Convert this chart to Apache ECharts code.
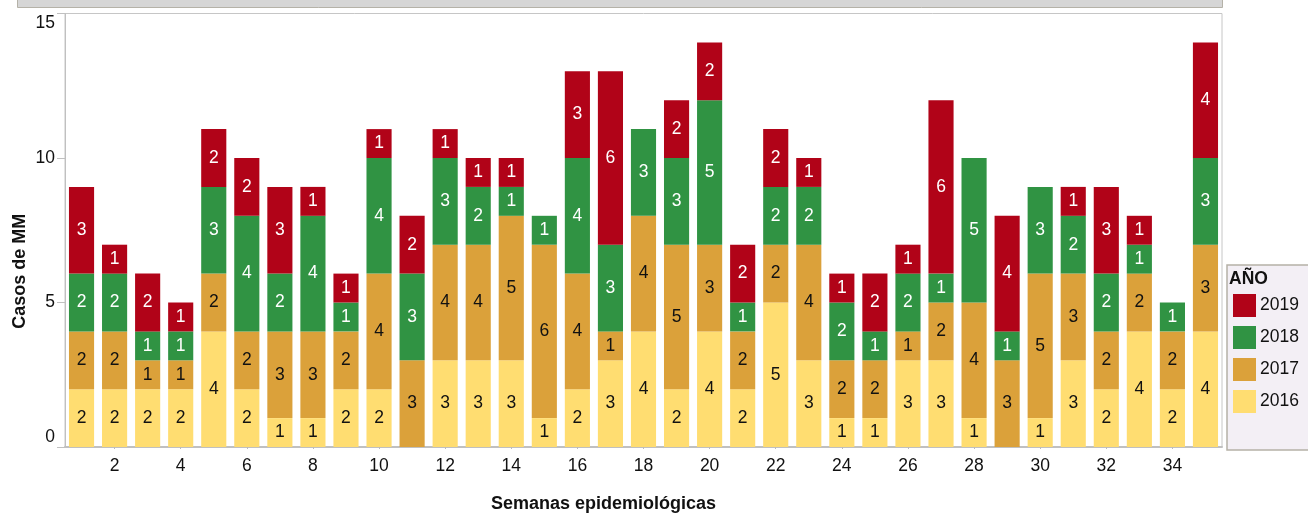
<!DOCTYPE html>
<html>
<head>
<meta charset="utf-8">
<script src="https://cdn.jsdelivr.net/npm/echarts@6/dist/echarts.min.js"></script>
<style>html,body{margin:0;padding:0;background:#fff;}#c{width:1308px;height:513px;}</style>
</head>
<body>
<div id="c"></div>
<script>
const weeks = ['1','2','3','4','5','6','7','8','9','10','11','12','13','14','15','16','17','18','19','20','21','22','23','24','25','26','27','28','29','30','31','32','33','34','35'];
const s2016 = [2,2,2,2,4,2,1,1,2,2,0,3,3,3,1,2,3,4,2,4,2,5,3,1,1,3,3,1,0,1,3,2,4,2,4];
const s2017 = [2,2,1,1,2,2,3,3,2,4,3,4,4,5,6,4,1,4,5,3,2,2,4,2,2,1,2,4,3,5,3,2,2,2,3];
const s2018 = [2,2,1,1,3,4,2,4,1,4,3,3,2,1,1,4,3,3,3,5,1,2,2,2,1,2,1,5,1,3,2,2,1,1,3];
const s2019 = [3,1,2,1,2,2,3,1,1,1,2,1,1,1,0,3,6,0,2,2,2,2,1,1,2,1,6,0,4,0,1,3,1,0,4];
const yTicks = [0, 5, 10, 15];
const seriesNames = ['2016','2017','2018','2019'];
const seriesData = [s2016, s2017, s2018, s2019];
const colors = ['#ffdd71','#dba13a','#309343','#b10318'];
const labelColors = ['#111','#111','#fff','#fff'];

const FONT = 'Liberation Sans, Arial, sans-serif';
const LS = 17.5;
const chart = echarts.init(document.getElementById('c'), null, {renderer:'canvas'});
chart.setOption({
  animation: false,
  textStyle: {fontFamily: FONT},
  title: {
    text: 'AÑO', left: 1229, top: 270, padding: 0,
    textStyle: {fontFamily: FONT, fontSize: 17.5, fontWeight: 'bold', color: '#111'}
  },
  graphic: [{
    type: 'rect', left: 17, top: -5, z: 10,
    shape: {width: 1205, height: 12},
    style: {fill: '#d6d6d6', stroke: '#b5b2a8', lineWidth: 1}
  }],
  legend: {
    orient: 'vertical', left: 1227, top: 265,
    data: ['2019','2018','2017','2016'],
    itemWidth: 23, itemHeight: 23, itemGap: 9,
    icon: 'rect',
    padding: [29, 40, 37, 6],
    backgroundColor: '#f3eff5', borderColor: '#b5b1a7', borderWidth: 1.5,
    textStyle: {fontFamily: FONT, fontSize: LS, color: '#111', padding: [0,0,0,-1]}
  },
  grid: {left: 65, right: 86, top: 13.5, bottom: 66, show: true, borderColor: '#c6c6c6', borderWidth: 1, containLabel: false, outerBoundsMode: 'none'},
  xAxis: {
    type: 'category', data: weeks,
    name: 'Semanas epidemiológicas', nameLocation: 'middle', nameGap: 48, nameMoveOverlap: false,
    nameTextStyle: {fontFamily: FONT, fontSize: 18, fontWeight: 'bold', color: '#111', padding: [0, 80, 0, 0]},
    axisLine: {lineStyle: {color: '#c0c0c0', width: 2}},
    axisTick: {show: true, alignWithLabel: true, length: 2, lineStyle: {color: '#bbb'}, interval: (i) => (i + 1) % 2 === 0},
    axisLabel: {interval: (i) => (i + 1) % 2 === 0, fontFamily: FONT, fontSize: LS, color: '#111', margin: 10}
  },
  yAxis: {
    type: 'value', min: 0, max: 15, interval: 5,
    name: 'Casos de MM', nameLocation: 'middle', nameGap: 36, nameMoveOverlap: false,
    nameTextStyle: {fontFamily: FONT, fontSize: 18, fontWeight: 'bold', color: '#111', padding: [0, 82, 0, 0]},
    axisLine: {show: true, lineStyle: {color: '#c0c0c0', width: 1}},
    axisTick: {show: true, length: 8, lineStyle: {color: '#c0c0c0'}},
    splitLine: {show: false},
    axisLabel: {
      fontFamily: FONT, fontSize: LS, color: '#111', margin: 10,
      formatter: (v) => v === yTicks[yTicks.length - 1] ? '{top|' + v + '}' : (v === yTicks[0] ? '{bot|' + v + '}' : String(v)),
      rich: {
        top: {fontFamily: FONT, fontSize: LS, color: '#111', padding: [19, 0, 0, 0]},
        bot: {fontFamily: FONT, fontSize: LS, color: '#111', padding: [0, 0, 19, 0]}
      }
    }
  },
  series: seriesNames.map((n, k) => ({
    name: n, type: 'bar', stack: 'total', data: seriesData[k],
    barCategoryGap: '24%',
    itemStyle: {color: colors[k]},
    label: {
      show: true, position: 'inside', fontFamily: FONT, fontSize: LS, color: labelColors[k],
      formatter: (p) => p.value ? String(p.value) : ''
    }
  }))
});
</script>
</body>
</html>
